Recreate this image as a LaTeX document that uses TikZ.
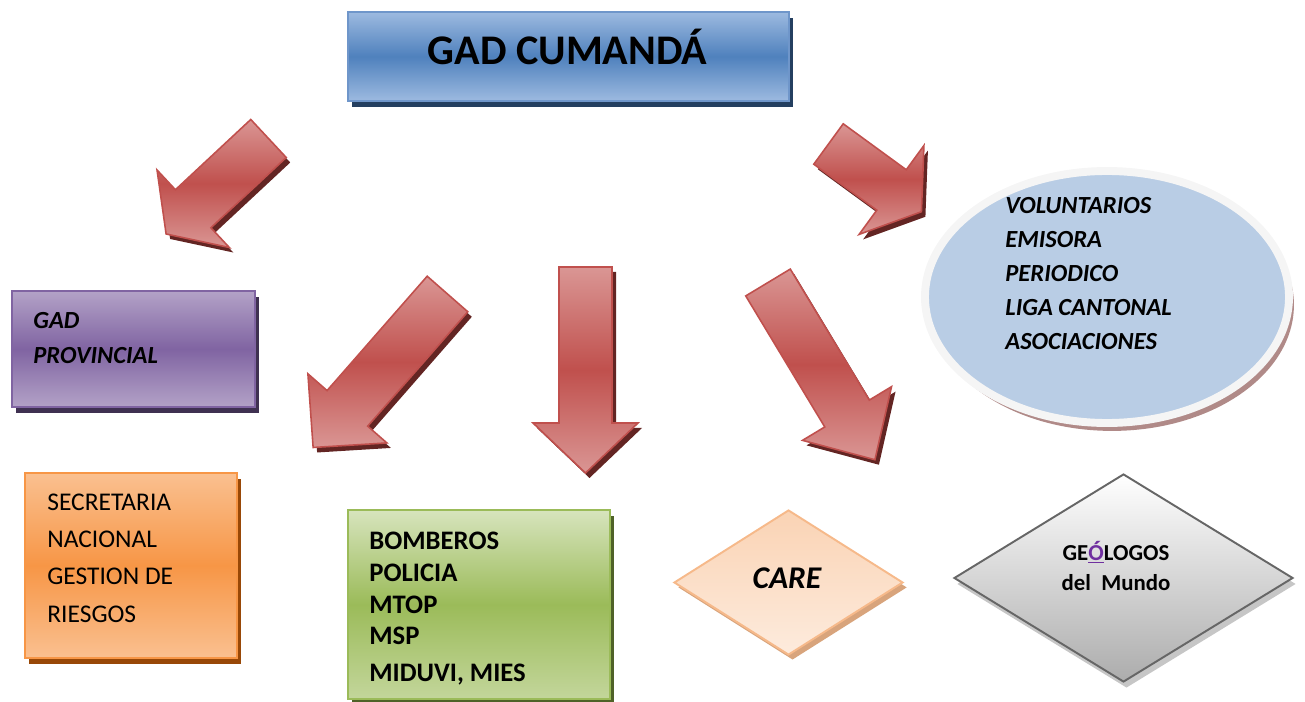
\documentclass[tikz,border=0pt]{standalone}
\usepackage{fontspec}
\setmainfont{Carlito}
\usetikzlibrary{shapes.geometric,
                shadows
                }

\definecolor{titelblau}{HTML}{4F81BD}
\definecolor{titelhell}{HTML}{9DBAE0}
\definecolor{titelrand}{HTML}{6F96CA}
\definecolor{titelschatten}{HTML}{243F60}
\definecolor{lilamitte}{HTML}{8064A2}
\definecolor{lilahell}{HTML}{B3A2C7}
\definecolor{lilaschatten}{HTML}{3F3151}
\definecolor{orangemitte}{HTML}{F79646}
\definecolor{orangehell}{HTML}{FAC090}
\definecolor{orangeschatten}{HTML}{984807}
\definecolor{gruenmitte}{HTML}{9BBB59}
\definecolor{gruenoben}{HTML}{D7E4BD}
\definecolor{gruenunten}{HTML}{C3D69B}
\definecolor{gruenschatten}{HTML}{4F6228}
\definecolor{pfirsichoben}{HTML}{FAD3B4}
\definecolor{pfirsichunten}{HTML}{FDEBDD}
\definecolor{pfirsichrand}{HTML}{F6B98A}
\definecolor{pfirsichschatten}{HTML}{D8A47C}
\definecolor{ellipsenblau}{HTML}{B9CDE5}
\definecolor{ellipsenschatten}{HTML}{B08A88}
\definecolor{pfeilrot}{HTML}{C0504D}
\definecolor{pfeilhell}{HTML}{DA9694}
\definecolor{pfeilschattenrot}{HTML}{632523}
\definecolor{lila}{HTML}{7030A0}

\begin{document}
\begin{tikzpicture}[x=0.02cm, y=-0.02cm,
    kasten/.style 2 args={rectangle, minimum width=#1*0.02cm,
        minimum height=#2*0.02cm, inner sep=0pt, line width=1.1pt},
    schatten/.style={general shadow={fill=#1, shadow xshift=2.3pt,
        shadow yshift=-3.4pt}},
    schrift/.style={inner sep=0pt, align=left},
    pfeil/.style={draw=pfeilrot, line width=0.9pt, top color=pfeilhell,
        bottom color=pfeilhell, middle color=pfeilrot},
    pfeilschatten/.style={fill=pfeilschattenrot}
    ]
    \useasboundingbox (0,0) rectangle (1305,702);

    % Titel oben
    \node[kasten={441}{89}, draw=titelrand, top color=titelhell,
        bottom color=titelhell, middle color=titelblau,
        schatten=titelschatten] (titel) at (568.5,56.5) {};
    \node[schrift, anchor=base, font=\fontsize{24}{29}\selectfont\bfseries]
        (titeltext) at (567.5,65) {GAD CUMANDÁ};

    % Kasten GAD Provincial (Anker = Grundlinie der letzten Zeile)
    \node[kasten={243}{116}, draw=lilamitte, top color=lilahell,
        bottom color=lilahell, middle color=lilamitte,
        schatten=lilaschatten] (prov) at (133.5,349) {};
    \node[schrift, anchor=base west,
        font=\fontsize{14}{20.4}\selectfont\bfseries\itshape]
        (provtext) at (33,364) {GAD\\PROVINCIAL};

    % Kasten Secretaria
    \node[kasten={212}{185}, draw=orangemitte, top color=orangehell,
        bottom color=orangehell, middle color=orangemitte,
        schatten=orangeschatten] (sekr) at (131,565.5) {};
    \node[schrift, anchor=base west, font=\fontsize{14.5}{21.2}\selectfont]
        (sekrtext) at (47,622)
        {SECRETARIA\\NACIONAL\\GESTION DE\\RIESGOS};

    % Kasten Bomberos
    \node[kasten={262}{189}, draw=gruenmitte, top color=gruenoben,
        bottom color=gruenunten, middle color=gruenmitte,
        schatten=gruenschatten] (gruen) at (479,604.5) {};
    \node[schrift, anchor=base west,
        font=\fontsize{15.2}{18.1}\selectfont\bfseries]
        (gruentext) at (369,681)
        {BOMBEROS\\POLICIA\\MTOP\\MSP\\[2.5pt]MIDUVI, MIES};

    % Raute CARE
    \node[diamond, minimum width=229*0.02cm, minimum height=145*0.02cm,
        inner sep=0pt, draw=pfirsichrand, line width=1.1pt,
        top color=pfirsichoben, bottom color=pfirsichunten,
        general shadow={fill=pfirsichschatten, shadow xshift=2.3pt,
        shadow yshift=-2.8pt}] (care) at (788.5,582.5) {};
    \node[schrift, anchor=base,
        font=\fontsize{18}{22}\selectfont\bfseries\itshape]
        (caretext) at (787,588) {CARE};

    % Raute Geologos
    \node[diamond, minimum width=339*0.02cm, minimum height=208*0.02cm,
        inner sep=0pt, draw=gray!80!black, line width=1.1pt,
        top color=white, bottom color=gray!65,
        general shadow={fill=gray!45, shadow xshift=1.7pt,
        shadow yshift=-3.4pt}] (geo) at (1123.5,578) {};
    \node[schrift, align=center, anchor=base,
        font=\fontsize{13}{17}\selectfont\bfseries]
        (geotext) at (1116,590)
        {GE{\color{lila}\underline{Ó}}LOGOS\\del\ \ Mundo};

    % Ellipse rechts
    \node[ellipse, minimum width=364*0.02cm, minimum height=252*0.02cm,
        inner sep=0pt, fill=ellipsenblau, draw=gray!8, line width=4.5pt,
        general shadow={fill=ellipsenschatten, shadow xshift=2.8pt,
        shadow yshift=-4.5pt}] (ell) at (1107,297) {};
    \node[schrift, anchor=base west,
        font=\fontsize{14}{19.3}\selectfont\bfseries\itshape]
        (elltext) at (1005,349.5)
        {VOLUNTARIOS\\EMISORA\\PERIODICO\\LIGA CANTONAL\\ASOCIACIONES};

    % Zeichne Blockpfeile (Schwanz, Winkel, Laenge, Schaft, Kopf)
    \foreach \xa/\ya/\winkel/\laenge/\schaft/\breite/\kopf in {
        268.5/138.5/-137/140/26/53/37,
        447.5/294/-131.2/204/27/52.5/52,
        585.5/267/-90/206/26.5/52.5/50,
        768/282.5/-58.9/207/26/52/54,
        828.5/144/-36.1/115/25/55/37}
    {
        \fill[pfeilschatten, shift={(\xa+4,\ya+5)}, rotate=\winkel]
            (0,-\schaft) -- (\laenge-\kopf,-\schaft) -- (\laenge-\kopf,-\breite)
            -- (\laenge,0) -- (\laenge-\kopf,\breite) -- (\laenge-\kopf,\schaft)
            -- (0,\schaft) -- cycle;
        \draw[pfeil, shift={(\xa,\ya)}, rotate=\winkel]
            (0,-\schaft) -- (\laenge-\kopf,-\schaft) -- (\laenge-\kopf,-\breite)
            -- (\laenge,0) -- (\laenge-\kopf,\breite) -- (\laenge-\kopf,\schaft)
            -- (0,\schaft) -- cycle;
    }

\end{tikzpicture}
\end{document}
